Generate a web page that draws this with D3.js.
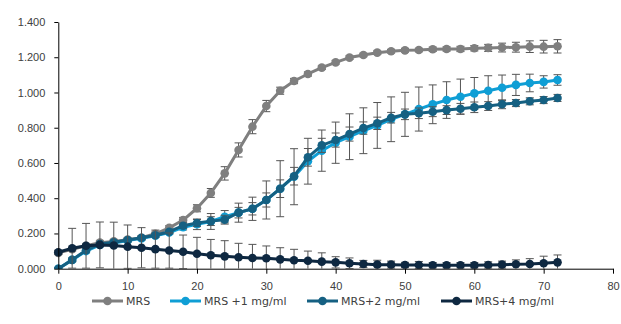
<!DOCTYPE html>
<html>
<head>
<meta charset="utf-8">
<script src="https://cdn.jsdelivr.net/npm/d3@7"></script>
<style>
  body { margin: 0; background: #fff; }
  svg { display: block; font-family: "DejaVu Sans", sans-serif; }
  .axis text { font-size: 11px; fill: #404040; }
  .axis path, .axis line { stroke: #000; }
  .legend text { font-size: 11px; fill: #404040; }
</style>
</head>
<body>
<div class="graph"></div>
<script>
const times = d3.range(0, 73, 2);
const seriesNames = ['MRS', 'MRS +1 mg/ml', 'MRS+2 mg/ml', 'MRS+4 mg/ml'];
const seriesColors = ['#7f7f7f', '#0f9ed5', '#156082', '#0e2841'];

const mrs = [0.09, 0.11, 0.13, 0.148, 0.155, 0.165, 0.176, 0.198, 0.232, 0.276, 0.343, 0.43, 0.541, 0.674, 0.806, 0.923, 1.010, 1.065, 1.105, 1.141, 1.171, 1.198, 1.213, 1.226, 1.234, 1.239, 1.241, 1.245, 1.247, 1.247, 1.251, 1.253, 1.255, 1.257, 1.26, 1.26, 1.262];
const mrsErr = [0.01, 0.01, 0.01, 0.01, 0.01, 0.01, 0.01, 0.01, 0.012, 0.015, 0.02, 0.025, 0.038, 0.04, 0.04, 0.032, 0.02, 0.015, 0.012, 0.01, 0.01, 0.01, 0.01, 0.01, 0.01, 0.01, 0.01, 0.012, 0.012, 0.015, 0.015, 0.02, 0.025, 0.028, 0.033, 0.036, 0.038];

const mrs1 = [0, 0.05, 0.10, 0.135, 0.145, 0.16, 0.172, 0.187, 0.205, 0.235, 0.252, 0.268, 0.295, 0.318, 0.34, 0.39, 0.454, 0.522, 0.61, 0.67, 0.715, 0.749, 0.783, 0.813, 0.848, 0.876, 0.906, 0.933, 0.957, 0.976, 0.995, 1.01, 1.027, 1.043, 1.054, 1.06, 1.071];
const mrs1Err = [0.005, 0.01, 0.01, 0.01, 0.01, 0.01, 0.01, 0.01, 0.01, 0.015, 0.03, 0.045, 0.035, 0.054, 0.066, 0.108, 0.159, 0.159, 0.13, 0.117, 0.117, 0.13, 0.13, 0.13, 0.127, 0.125, 0.125, 0.11, 0.104, 0.1, 0.09, 0.085, 0.072, 0.06, 0.05, 0.035, 0.03];

const mrs2 = [0, 0.05, 0.105, 0.14, 0.15, 0.163, 0.176, 0.19, 0.21, 0.244, 0.259, 0.27, 0.278, 0.318, 0.34, 0.39, 0.454, 0.525, 0.632, 0.70, 0.73, 0.764, 0.798, 0.825, 0.857, 0.876, 0.882, 0.891, 0.90, 0.908, 0.916, 0.923, 0.933, 0.94, 0.95, 0.957, 0.969];
const mrs2Err = [0.005, 0.01, 0.01, 0.01, 0.01, 0.01, 0.01, 0.01, 0.01, 0.015, 0.02, 0.025, 0.025, 0.03, 0.035, 0.04, 0.05, 0.05, 0.05, 0.04, 0.04, 0.04, 0.035, 0.035, 0.03, 0.03, 0.03, 0.028, 0.025, 0.03, 0.03, 0.025, 0.025, 0.02, 0.02, 0.02, 0.02];

const mrs4 = [0.093, 0.116, 0.13, 0.135, 0.132, 0.125, 0.119, 0.111, 0.103, 0.096, 0.085, 0.076, 0.07, 0.065, 0.061, 0.059, 0.053, 0.048, 0.045, 0.04, 0.036, 0.031, 0.027, 0.023, 0.023, 0.021, 0.021, 0.019, 0.019, 0.019, 0.019, 0.021, 0.023, 0.025, 0.027, 0.031, 0.036];
const mrs4Err = [0.01, 0.113, 0.127, 0.13, 0.132, 0.123, 0.114, 0.108, 0.1, 0.095, 0.093, 0.09, 0.089, 0.079, 0.077, 0.07, 0.066, 0.062, 0.055, 0.05, 0.032, 0.03, 0.02, 0.025, 0.02, 0.015, 0.02, 0.015, 0.015, 0.015, 0.015, 0.018, 0.02, 0.025, 0.03, 0.04, 0.042];

const xTicks = d3.range(0, 81, 10);
const yTicks = d3.range(0, 1.41, 0.2);

const width = 621, height = 324;
const margin = { top: 22, right: 8, bottom: 55.3, left: 58.3 };
const innerW = width - margin.left - margin.right;
const innerH = height - margin.top - margin.bottom;

const series = [mrs, mrs1, mrs2, mrs4].map((vals, i) => ({
  name: seriesNames[i],
  color: seriesColors[i],
  points: vals.map((v, j) => ({ t: times[j], v: v, e: [mrsErr, mrs1Err, mrs2Err, mrs4Err][i][j] }))
}));

const x = d3.scaleLinear().domain([0, 80]).range([0, innerW]);
const y = d3.scaleLinear().domain([0, 1.4]).range([innerH, 0]);

const svg = d3.select('.graph').append('svg')
  .attr('width', width)
  .attr('height', height);

svg.append('defs').append('clipPath').attr('id', 'plot-clip')
  .append('rect').attr('x', -10).attr('y', -10).attr('width', innerW + 20).attr('height', innerH + 10);

const g = svg.append('g')
  .attr('transform', `translate(${margin.left},${margin.top})`);

const plot = g.append('g').attr('clip-path', 'url(#plot-clip)');

const line = d3.line().x(d => x(d.t)).y(d => y(d.v));

series.forEach(s => {
  const sg = plot.append('g');
  // error bars
  const eb = sg.selectAll('.err').data(s.points).enter().append('g').attr('class', 'err')
    .attr('stroke', '#555').attr('stroke-width', 1);
  eb.append('line')
    .attr('x1', d => x(d.t)).attr('x2', d => x(d.t))
    .attr('y1', d => y(d.v + d.e)).attr('y2', d => y(Math.max(0, d.v - d.e)));
  eb.append('line')
    .attr('x1', d => x(d.t) - 4).attr('x2', d => x(d.t) + 4)
    .attr('y1', d => y(d.v + d.e)).attr('y2', d => y(d.v + d.e));
  eb.filter(d => d.v - d.e > 0).append('line')
    .attr('x1', d => x(d.t) - 4).attr('x2', d => x(d.t) + 4)
    .attr('y1', d => y(d.v - d.e)).attr('y2', d => y(d.v - d.e));

  sg.append('path')
    .datum(s.points)
    .attr('fill', 'none')
    .attr('stroke', s.color)
    .attr('stroke-width', 3)
    .attr('stroke-linejoin', 'round')
    .attr('d', line);

  sg.selectAll('.dot').data(s.points).enter().append('circle')
    .attr('class', 'dot')
    .attr('cx', d => x(d.t))
    .attr('cy', d => y(d.v))
    .attr('r', 4.3)
    .attr('fill', s.color);
});

g.append('g')
  .attr('class', 'axis')
  .call(d3.axisLeft(y).tickValues(yTicks).tickFormat(d3.format('.3f')).tickSize(4).tickSizeOuter(0).tickPadding(9));

g.append('g')
  .attr('class', 'axis')
  .attr('transform', `translate(0,${innerH})`)
  .call(d3.axisBottom(x).tickValues(xTicks).tickSize(5).tickSizeOuter(0).tickPadding(9));

// legend
const legendX = [92, 170, 307, 441];
const legend = svg.append('g').attr('class', 'legend')
  .attr('transform', 'translate(0,301)');
series.forEach((s, i) => {
  const lg = legend.append('g').attr('transform', `translate(${legendX[i]},0)`);
  lg.append('line').attr('x1', 0).attr('x2', 31).attr('y1', 0).attr('y2', 0)
    .attr('stroke', s.color).attr('stroke-width', 3);
  lg.append('circle').attr('cx', 15.5).attr('cy', 0).attr('r', 4.3).attr('fill', s.color);
  lg.append('text').attr('x', 34).attr('y', 0).attr('dy', '0.36em').text(s.name);
});
</script>
</body>
</html>
